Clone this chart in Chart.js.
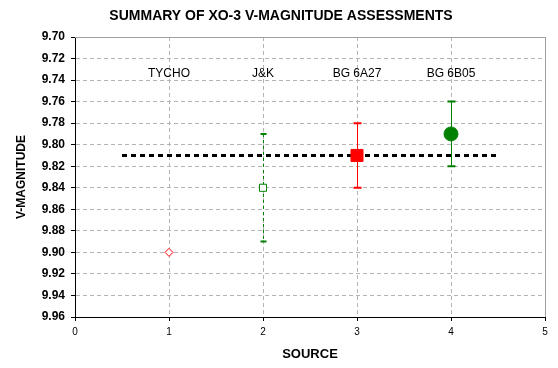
<!DOCTYPE html>
<html>
<head>
<meta charset="utf-8">
<script src="https://cdn.jsdelivr.net/npm/chart.js@4"></script>
<style>
  html, body { margin: 0; padding: 0; background: #fff; }
  #wrap { width: 558px; height: 368px; }
</style>
</head>
<body>
<div id="wrap"><canvas id="magChart"></canvas></div>
<script>
// values
const chartTitle = 'SUMMARY OF XO-3 V-MAGNITUDE ASSESSMENTS';
const sources = ['TYCHO', 'J&K', 'BG 6A27', 'BG 6B05'];
const sourceX = [1, 2, 3, 4];
const magnitudes = [9.90, 9.84, 9.81, 9.79];
const errLow = [null, 9.79, 9.78, 9.76];
const errHigh = [null, 9.89, 9.84, 9.82];
const meanMag = 9.81;
const meanFrom = 0.5, meanTo = 4.5;
const labelMag = 9.734;
const yTicks = [9.70, 9.72, 9.74, 9.76, 9.78, 9.80, 9.82, 9.84, 9.86, 9.88, 9.90, 9.92, 9.94, 9.96];
const xTicks = [0, 1, 2, 3, 4, 5];

const markerColor = ['#ff0000', '#008000', '#ff0000', '#008000'];
const markerFill = ['#ffffff', '#ffffff', '#ff0000', '#008000'];
const markerStyle = ['rectRot', 'rect', 'rect', 'circle'];
const markerSize = [4, 5, 8.5, 7];
const barDash = [[], [3, 3], [], []];
const capHalf = [0, 2.5, 3.5, 3.5];

const FONT = '"Liberation Sans", Arial, sans-serif';

// error bars under the markers, title + source names on top
const errorBars = {
  id: 'errorBars',
  beforeDatasetsDraw(chart) {
    const { ctx, scales: { x, y } } = chart;
    ctx.save();
    sources.forEach((s, i) => {
      if (errLow[i] == null) return;
      const px = Math.round(x.getPixelForValue(sourceX[i])) + 0.5;
      const y1 = y.getPixelForValue(errLow[i]);
      const y2 = y.getPixelForValue(errHigh[i]);
      ctx.strokeStyle = markerColor[i];
      ctx.lineWidth = 1;
      ctx.setLineDash(barDash[i]);
      ctx.beginPath();
      ctx.moveTo(px, y1);
      ctx.lineTo(px, y2);
      ctx.stroke();
      ctx.setLineDash([]);
      ctx.lineWidth = 2;
      ctx.beginPath();
      ctx.moveTo(px - capHalf[i] - 0.5, y1);
      ctx.lineTo(px + capHalf[i] + 0.5, y1);
      ctx.moveTo(px - capHalf[i] - 0.5, y2);
      ctx.lineTo(px + capHalf[i] + 0.5, y2);
      ctx.stroke();
    });
    ctx.restore();
  },
  afterDraw(chart) {
    const { ctx, chartArea: a, scales: { x, y } } = chart;
    ctx.save();
    // plot frame top / right
    ctx.strokeStyle = '#a0a0a0';
    ctx.lineWidth = 1;
    ctx.beginPath();
    ctx.moveTo(a.left, a.top + 0.5);
    ctx.lineTo(a.right + 0.5, a.top + 0.5);
    ctx.lineTo(a.right + 0.5, a.bottom);
    ctx.stroke();
    // title
    ctx.fillStyle = '#000';
    ctx.textAlign = 'center';
    ctx.textBaseline = 'middle';
    ctx.font = 'bold 14px ' + FONT;
    ctx.fillText(chartTitle, 281, 16);
    // source names
    ctx.font = '12px ' + FONT;
    sources.forEach((s, i) => {
      ctx.fillText(s, x.getPixelForValue(sourceX[i]), y.getPixelForValue(labelMag));
    });
    ctx.restore();
  }
};

new Chart(document.getElementById('magChart'), {
  type: 'scatter',
  data: {
    datasets: [
      {
        label: 'Sources',
        order: 1,
        data: sourceX.map((v, i) => ({ x: v, y: magnitudes[i] })),
        pointStyle: markerStyle,
        pointRadius: markerSize,
        pointBackgroundColor: markerFill,
        pointBorderColor: markerColor,
        pointBorderWidth: 1
      },
      {
        label: 'Average',
        type: 'line',
        order: 2,
        data: [{ x: meanFrom, y: meanMag }, { x: meanTo, y: meanMag }],
        borderColor: '#000',
        borderWidth: 3,
        borderDash: [5, 4],
        pointRadius: 0,
        fill: false
      }
    ]
  },
  options: {
    responsive: true,
    maintainAspectRatio: false,
    animation: false,
    layout: { padding: { top: 37, right: 13, left: 0, bottom: 0 } },
    plugins: {
      legend: { display: false },
      tooltip: { enabled: false },
      title: { display: false }
    },
    scales: {
      x: {
        type: 'linear',
        min: 0,
        max: 5,
        afterBuildTicks: s => { s.ticks = xTicks.map(v => ({ value: v })); },
        afterFit: s => { s.height = 51; },
        ticks: { color: '#000', font: { family: FONT, size: 10 }, padding: 5 },
        grid: {
          color: '#b4b4b4',
          tickColor: '#000',
          tickLength: 4,
          tickBorderDash: []
        },
        border: { color: '#000', width: 1, dash: [4, 3] },
        title: {
          display: true,
          text: 'SOURCE',
          color: '#000',
          font: { family: FONT, size: 13, weight: 'bold' },
          padding: { top: 0, bottom: 6 }
        }
      },
      y: {
        type: 'linear',
        reverse: true,
        min: 9.70,
        max: 9.96,
        afterBuildTicks: s => { s.ticks = yTicks.map(v => ({ value: v })); },
        afterFit: s => { s.width = 75; },
        ticks: {
          color: '#000',
          font: { family: FONT, size: 12, weight: 'bold' },
          padding: 6,
          callback: v => Number(v).toFixed(2)
        },
        grid: {
          color: '#b4b4b4',
          tickColor: '#000',
          tickLength: 4,
          tickBorderDash: []
        },
        border: { color: '#000', width: 1, dash: [4, 3] },
        title: {
          display: true,
          text: 'V-MAGNITUDE',
          color: '#000',
          font: { family: FONT, size: 12, weight: 'bold' },
          padding: { top: 14, bottom: 0 }
        }
      }
    },
    elements: { line: { tension: 0 } }
  },
  plugins: [errorBars]
});
</script>
</body>
</html>
